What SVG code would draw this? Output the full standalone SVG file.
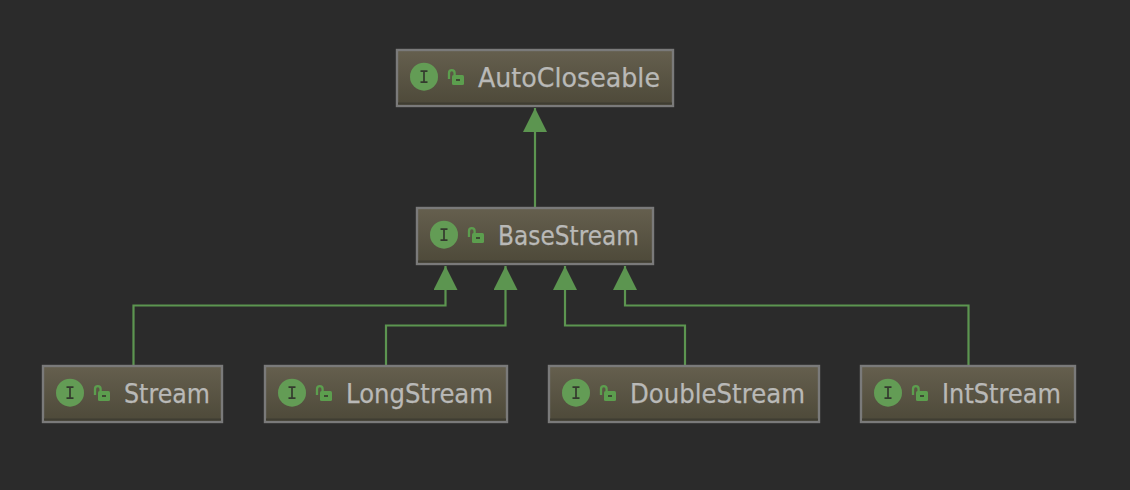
<svg xmlns="http://www.w3.org/2000/svg" width="1130" height="490" viewBox="0 0 1130 490">
<defs>
<linearGradient id="g" x1="0" y1="0" x2="0" y2="1"><stop offset="0" stop-color="#655f4e"/><stop offset="1" stop-color="#4d4939"/></linearGradient>
<marker id="a" markerUnits="userSpaceOnUse" markerWidth="24" markerHeight="24" refX="24" refY="12" orient="auto" viewBox="0 0 24 24"><path d="M24 12L0 0V24Z" fill="#5c9550"/></marker>
<g id="ic">
<circle cx="14" cy="13.700" r="14" fill="#639c55"/>
<path d="M10.500 8.200h7M10.500 19.200h7M14 8.200v11" stroke="#343a2e" stroke-width="1.700" fill="none"/>
<path d="M39 16V10a2.800 2.800 0 0 1 5.600 0v2" fill="none" stroke="#5c9e4e" stroke-width="2.300"/>
<rect x="42" y="12" width="12" height="10" rx="1.500" fill="#5c9e4e"/>
<rect x="46" y="16" width="4" height="2" fill="#3e4a33"/>
</g>
</defs>
<style>
.b{fill:url(#g);stroke:#7a7a7a;stroke-width:2.400}
.s{fill:none;stroke:#3f3d32;stroke-width:2}
.t{font-family:"DejaVu Sans",sans-serif;font-size:26.500px;fill:#b9b9b7;stroke:#b9b9b7;stroke-width:.25}
.c{fill:none;stroke:#5c9550;stroke-width:2.200;marker-end:url(#a)}
</style>
<rect width="1130" height="490" fill="#2b2b2b"/>
<g id="connectors">
<path class="c" d="M535 208V108"/>
<path class="c" d="M133.500 366V305.500H445.500V266"/>
<path class="c" d="M386 366V325.500H505.500V266"/>
<path class="c" d="M685 366V325.500H565V266"/>
<path class="c" d="M968.500 366V305.500H625V266"/>
</g>
<g id="autocloseable"><rect class="b" x="397" y="50" width="276" height="56"/><path class="s" d="M398 103.500H672"/><use href="#ic" x="410" y="63"/><text class="t" x="478" y="87" textLength="182" lengthAdjust="spacingAndGlyphs">AutoCloseable</text></g>
<g id="basestream"><rect class="b" x="417" y="208" width="236" height="56"/><path class="s" d="M418 261.500H652"/><use href="#ic" x="430" y="221"/><text class="t" x="498" y="245" textLength="141" lengthAdjust="spacingAndGlyphs">BaseStream</text></g>
<g id="stream"><rect class="b" x="43" y="366" width="179" height="56"/><path class="s" d="M44 419.500H221"/><use href="#ic" x="56" y="379"/><text class="t" x="124" y="403" textLength="86" lengthAdjust="spacingAndGlyphs">Stream</text></g>
<g id="longstream"><rect class="b" x="265" y="366" width="242" height="56"/><path class="s" d="M266 419.500H506"/><use href="#ic" x="278" y="379"/><text class="t" x="346" y="403" textLength="147" lengthAdjust="spacingAndGlyphs">LongStream</text></g>
<g id="doublestream"><rect class="b" x="549" y="366" width="270" height="56"/><path class="s" d="M550 419.500H818"/><use href="#ic" x="562" y="379"/><text class="t" x="630" y="403" textLength="175" lengthAdjust="spacingAndGlyphs">DoubleStream</text></g>
<g id="intstream"><rect class="b" x="861" y="366" width="214" height="56"/><path class="s" d="M862 419.500H1074"/><use href="#ic" x="874" y="379"/><text class="t" x="942" y="403" textLength="119" lengthAdjust="spacingAndGlyphs">IntStream</text></g>
</svg>
